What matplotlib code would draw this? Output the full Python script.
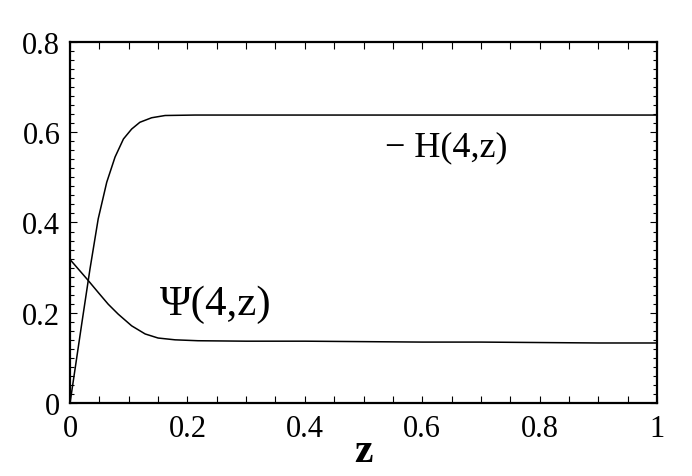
import matplotlib
matplotlib.use('Agg')
import numpy as np
from matplotlib import pyplot
from matplotlib.ticker import MultipleLocator

# values
z_h = [0.0, 0.01, 0.02, 0.034, 0.048, 0.0625, 0.0767, 0.091, 0.105, 0.119, 0.139, 0.162, 0.213,
       0.3, 0.4, 0.5, 0.6, 0.7, 0.8, 0.9, 1.0]
minus_h = [0.0, 0.088, 0.176, 0.297, 0.408, 0.489, 0.545, 0.585, 0.607, 0.622, 0.632, 0.637, 0.638,
           0.638, 0.638, 0.638, 0.638, 0.638, 0.638, 0.638, 0.638]

z_psi = [0.0, 0.014, 0.030, 0.048, 0.065, 0.082, 0.105, 0.128, 0.150, 0.179, 0.218,
         0.3, 0.4, 0.5, 0.6, 0.7, 0.8, 0.9, 1.0]
psi = [0.318, 0.297, 0.273, 0.245, 0.219, 0.197, 0.171, 0.153, 0.144, 0.140, 0.138,
       0.137, 0.137, 0.136, 0.135, 0.135, 0.134, 0.133, 0.133]

x_ticks = [0, 0.2, 0.4, 0.6, 0.8, 1]
x_labels = ['0', '0.2', '0.4', '0.6', '0.8', '1']
y_ticks = [0, 0.2, 0.4, 0.6, 0.8]
y_labels = ['0', '0.2', '0.4', '0.6', '0.8']

pyplot.rcParams['font.family'] = ['Liberation Serif', 'DejaVu Serif']

fig = pyplot.figure(figsize=(6.92, 4.77), dpi=100)
ax = fig.add_axes([0.1012, 0.153, 0.8482, 0.757])

ax.plot(z_h, minus_h, color='black', lw=1.1)
ax.plot(z_psi, psi, color='black', lw=1.1)

ax.set_xlim(0, 1)
ax.set_ylim(0, 0.8)
ax.set_xticks(x_ticks)
ax.set_xticklabels(x_labels)
ax.set_yticks(y_ticks)
ax.set_yticklabels(y_labels)
ax.xaxis.set_minor_locator(MultipleLocator(0.05))
ax.yaxis.set_minor_locator(MultipleLocator(0.02))

ax.tick_params(which='both', direction='in', top=True, right=True, labelsize=22, width=0.8)
ax.tick_params(axis='x', which='major', length=5, pad=8)
ax.tick_params(axis='x', which='minor', length=5)
ax.tick_params(axis='y', which='major', length=5, pad=7)
ax.tick_params(axis='y', which='minor', length=3)
for s in ax.spines.values():
    s.set_linewidth(1.6)

ax.set_xlabel('z', fontsize=30, fontweight='bold', labelpad=-8)

ax.text(0.537, 0.568, '\u2212 H(4,z)', fontsize=26, va='center', ha='left')
ax.text(0.153, 0.22, '\u03a8(4,z)', fontsize=31, va='center', ha='left')

fig.savefig('out.png')
